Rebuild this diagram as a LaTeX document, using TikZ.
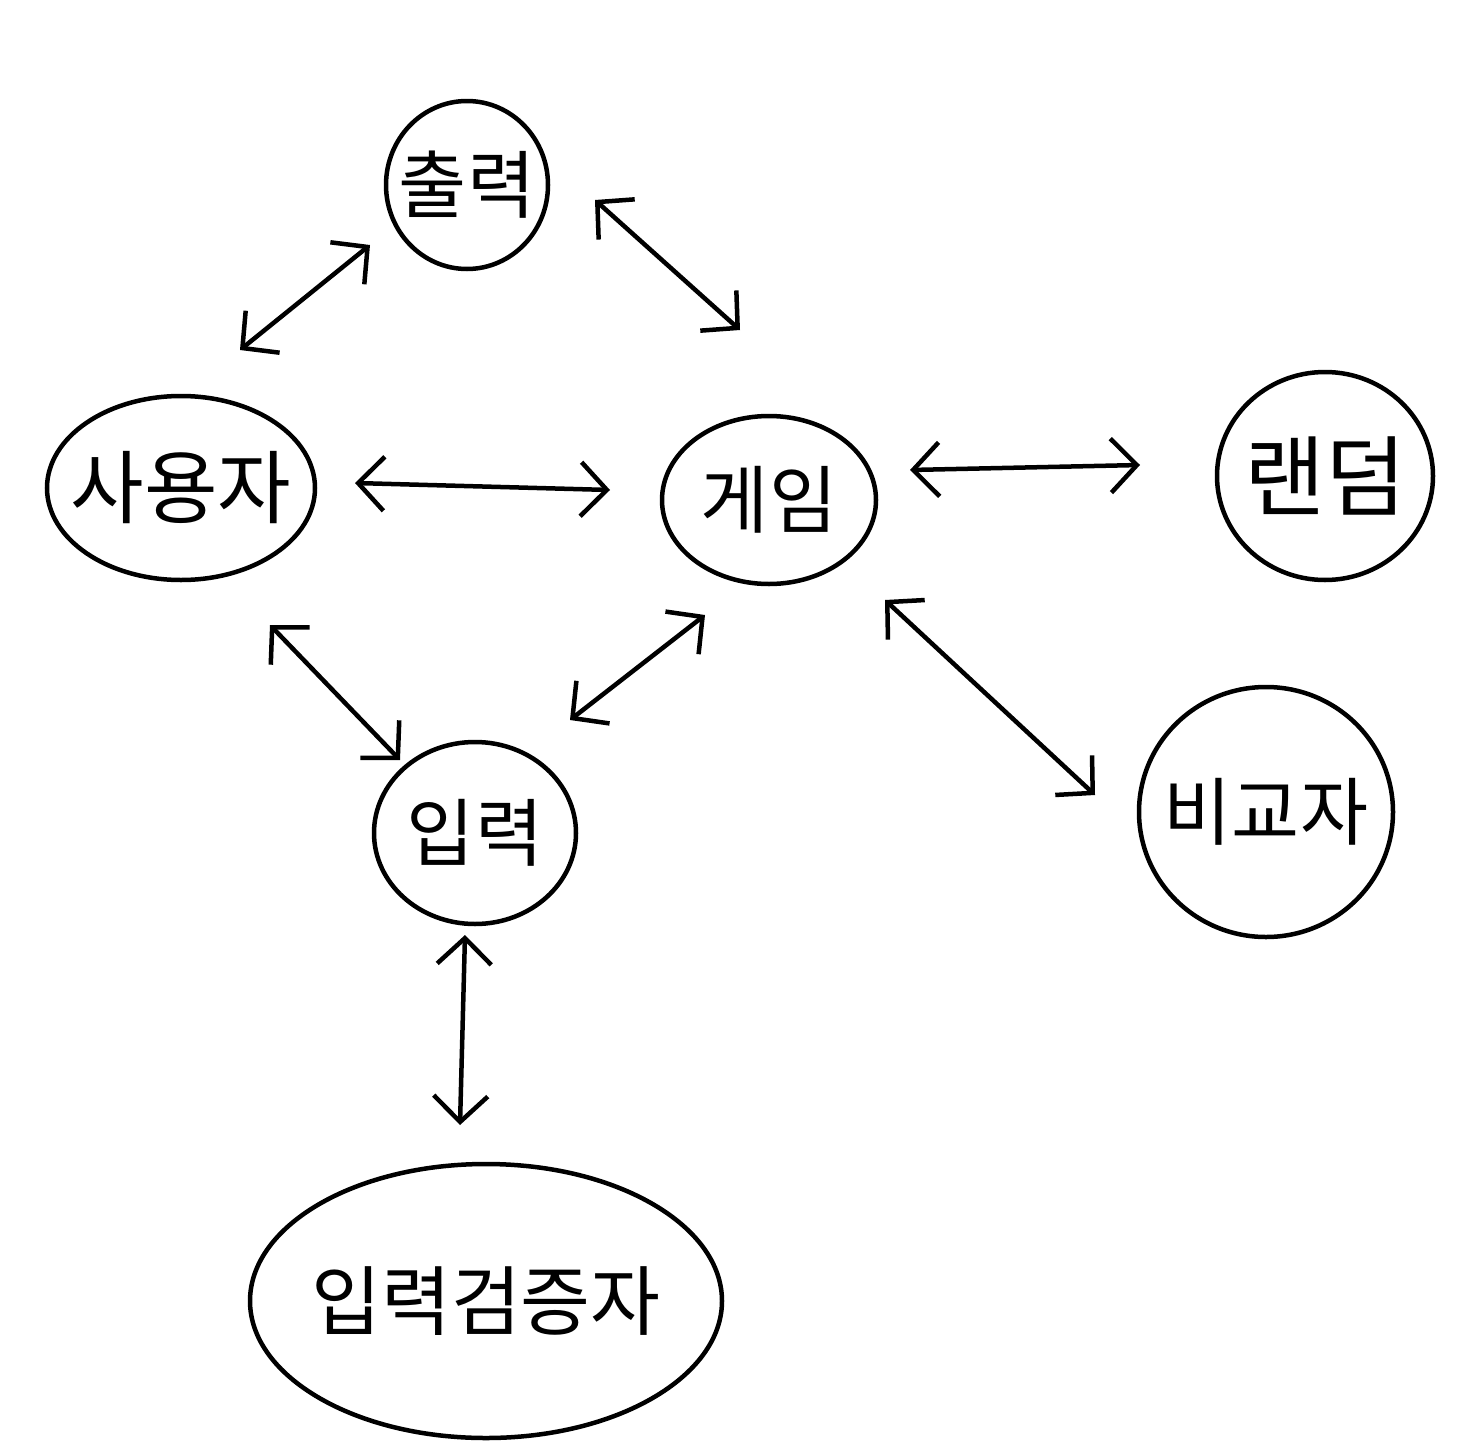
\documentclass[tikz,border=0pt]{standalone}
\usepackage{fontspec}
\newfontfamily\kr{Noto Sans CJK KR}
\usetikzlibrary{shapes.geometric,arrows.meta,calc}
\begin{document}
\begin{tikzpicture}[x=1pt,y=-1pt,
  bubble/.style={draw=black,line width=4.5pt,ellipse,inner sep=0pt,font=\kr\fontsize{74}{74}\selectfont},
  dbl/.style={line width=4.5pt,line cap=round,{Straight Barb[length=26pt,width=54pt,line width=4.5pt]}-{Straight Barb[length=26pt,width=54pt,line width=4.5pt]}}]
\useasboundingbox[fill=white] (0,0) rectangle (1457,1456);
\node[bubble,minimum width=162pt,minimum height=168pt] (out) at (467,185) {\makebox[0pt]{출력}};
\node[bubble,minimum width=268pt,minimum height=184pt,font=\kr\fontsize{80}{80}\selectfont] (user) at (181,488) {\makebox[0pt]{사용자}};
\node[bubble,minimum width=214pt,minimum height=168pt] (game) at (769,500) {\makebox[0pt]{게임}};
\node[bubble,minimum width=216pt,minimum height=208pt,font=\kr\fontsize{88}{88}\selectfont] (rand) at (1325,476) {\makebox[0pt]{랜덤}};
\node[bubble,minimum width=202pt,minimum height=182pt] (inp) at (475,833) {\makebox[0pt]{입력}};
\node[bubble,minimum width=254pt,minimum height=250pt] (comp) at (1266,812) {\makebox[0pt]{비교자}};
\node[bubble,minimum width=472pt,minimum height=274pt,font=\kr\fontsize{76}{76}\selectfont] (val) at (486,1301) {\makebox[0pt]{입력검증자}};
\draw[dbl] ($(user)+(59,-138)$) -- ($(out)+(-97,60)$);
\draw[dbl] ($(out)+(128,15)$) -- ($(game)+(-29,-170)$);
\draw[dbl] ($(user)+(174,-5)$) -- ($(game)+(-159,-10)$);
\draw[dbl] ($(game)+(141,-30)$) -- ($(rand)+(-185,-11)$);
\draw[dbl] ($(user)+(89,137)$) -- ($(inp)+(-75,-73)$);
\draw[dbl] ($(game)+(-64,115)$) -- ($(inp)+(95,-113)$);
\draw[dbl] ($(game)+(116,100)$) -- ($(comp)+(-171,-17)$);
\draw[dbl] ($(inp)+(-10,102)$) -- ($(val)+(-26,-176)$);
\end{tikzpicture}
\end{document}
